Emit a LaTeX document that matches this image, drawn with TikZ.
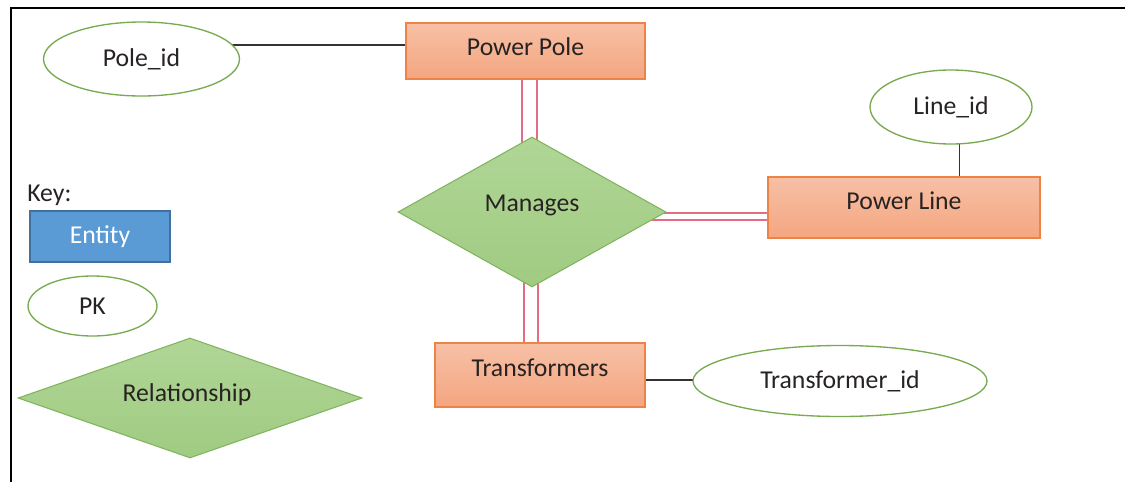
\documentclass[tikz,border=0pt]{standalone}
\usepackage{fontspec}
\setmainfont{Carlito}
\usetikzlibrary{shapes.geometric,backgrounds,calc}
\definecolor{entfill1}{RGB}{247,192,166}
\definecolor{entfill2}{RGB}{244,166,128}
\definecolor{entdraw}{RGB}{237,132,70}
\definecolor{relfill1}{RGB}{176,214,150}
\definecolor{relfill2}{RGB}{160,203,130}
\definecolor{reldraw}{RGB}{128,180,95}
\definecolor{attdraw}{RGB}{120,170,80}
\definecolor{keyfill}{RGB}{91,155,213}
\definecolor{keydraw}{RGB}{65,113,156}
\definecolor{dblcol}{RGB}{225,110,130}
\definecolor{txt}{RGB}{40,35,35}
\begin{document}
\begin{tikzpicture}[x=0.75pt,y=-0.75pt,
  every node/.style={font=\fontsize{19.3}{23}\selectfont,text=txt,inner sep=0pt},
  entity/.style={rectangle,draw=entdraw,line width=0.8pt,top color=entfill1,bottom color=entfill2,text height=0.7em,text depth=0.44em},
  attr/.style={ellipse,draw=attdraw,line width=1pt,fill=white},
  rel/.style={diamond,draw=reldraw,line width=0.8pt,top color=relfill1,bottom color=relfill2},
  link/.style={draw=black!80,line width=0.8pt},
  dbl/.style={draw=dblcol,line width=0.9pt}]
\useasboundingbox (0,0) rectangle (1125,482);
\draw[line width=1.6pt] (11,482) -- (11,8) -- (1125,8);

% entities
\node[entity,text height=0.66em,text depth=0em,minimum width=239*0.75pt,minimum height=56*0.75pt] (pp) at (525.5,51) {Power Pole};
\node[entity,minimum width=272*0.75pt,minimum height=61*0.75pt] (pl) at (904,207.5) {Power Line};
\node[entity,minimum width=210*0.75pt,minimum height=64*0.75pt] (tr) at (540,375) {Transformers};

% relationship
\node[rel,minimum width=268*0.75pt,minimum height=150*0.75pt] (mg) at (532,212) {};
\node (mgt) at (532,205) {Manages};

% attributes
\node[attr,minimum width=196*0.75pt,minimum height=74*0.75pt] (poleid) at (141.5,59) {Pole\_id};
\node[attr,minimum width=162*0.75pt,minimum height=74*0.75pt] (lineid) at (951,107) {Line\_id};
\node[attr,minimum width=294*0.75pt,minimum height=71*0.75pt] (trid) at (840,381) {Transformer\_id};

% key
\node[anchor=west] (key) at (27,195) {Key:};
\node[rectangle,draw=keydraw,line width=0.8pt,fill=keyfill,text=white,minimum width=140*0.75pt,minimum height=51*0.75pt] (kent) at (100,236.5) {Entity};
\node[attr,minimum width=129*0.75pt,minimum height=60*0.75pt] (kpk) at (92.5,306) {PK};
\node[rel,minimum width=344*0.75pt,minimum height=120*0.75pt] (krel) at (190,398) {};
\node (krelt) at (187,395) {Relationship};

\begin{scope}[on background layer]
  % attribute links
  \draw[link] ($(pp.west)+(0,-6)$) coordinate (a1) -- (a1 -| poleid.center);
  \draw[link] ($(pl.north west)+(192,0)$) coordinate (a3) -- (a3 |- lineid.center);
  \draw[link] ($(tr.east)+(0,5)$) coordinate (a4) -- (a4 -| trid.center);
  % double lines
  \draw[dbl] ($(mg.center)+(-10,0)$) coordinate (b1) -- (b1 |- pp.south);
  \draw[dbl] ($(mg.center)+(5,0)$) coordinate (b2) -- (b2 |- pp.south);
  \draw[dbl] ($(mg.center)+(0,1)$) coordinate (c1) -- (c1 -| pl.west);
  \draw[dbl] ($(mg.center)+(0,8)$) coordinate (c2) -- (c2 -| pl.west);
  \draw[dbl] ($(mg.center)+(-8,0)$) coordinate (d1) -- (d1 |- tr.north);
  \draw[dbl] ($(mg.center)+(6,0)$) coordinate (d2) -- (d2 |- tr.north);
\end{scope}
\end{tikzpicture}
\end{document}
